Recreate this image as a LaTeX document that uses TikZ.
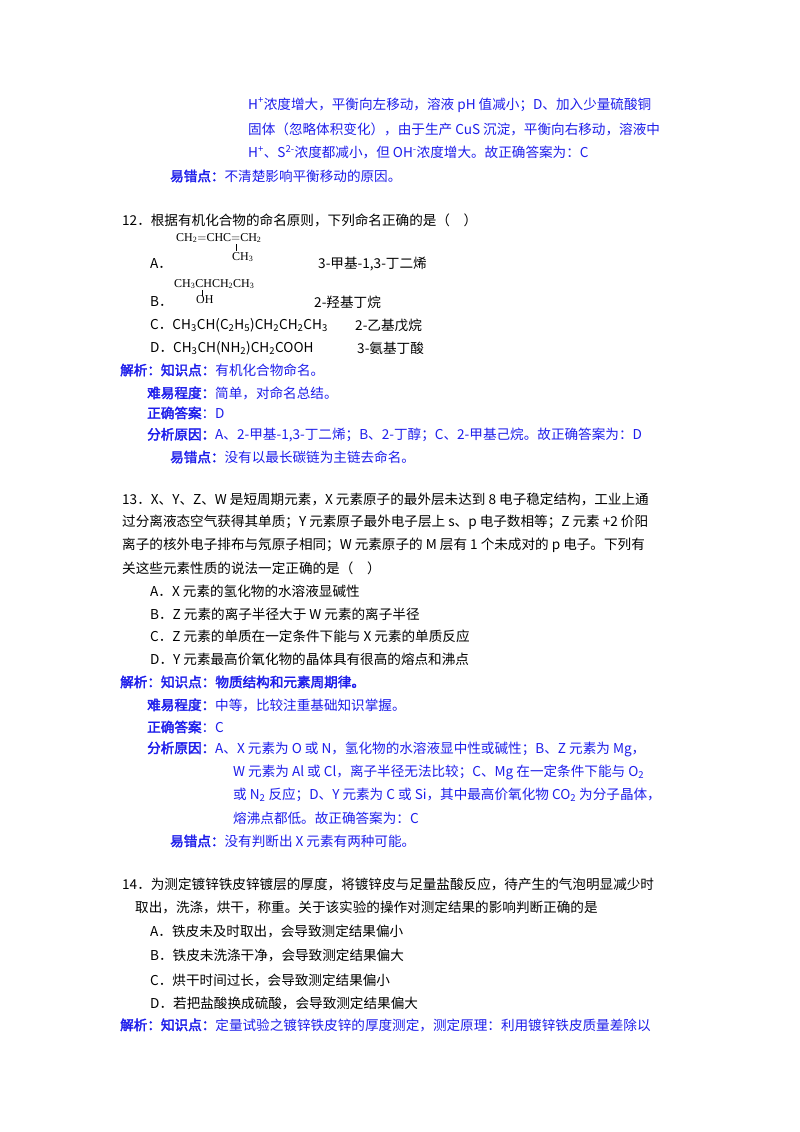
\documentclass[tikz,border=0pt]{standalone}
\usepackage{fontspec}
\setmainfont{Noto Sans CJK SC}
\newfontfamily\bfx[FakeBold=2.5]{Noto Sans CJK SC}
\newfontfamily\serx{Liberation Serif}
\definecolor{ab}{RGB}{30,30,235}
\newcommand{\B}[1]{{\bfx #1}}
\newcommand{\sux}[1]{\textsuperscript{#1}}
\newcommand{\sbx}[1]{\textsubscript{#1}}
\tikzset{t/.style={anchor=west,inner sep=0pt,font=\fontsize{13.6pt}{16pt}\selectfont},
 bl/.style={t,text=ab},
 fm/.style={anchor=west,inner sep=0pt,font=\serx\fontsize{12pt}{14pt}\selectfont}}
\begin{document}
\begin{tikzpicture}[x=1pt,y=-1pt]
\useasboundingbox[fill=white] (0,0) rectangle (800,1132);
\node[bl] (a1) at (248,105) {H\sux{+}浓度增大，平衡向左移动，溶液 pH 值减小；D、加入少量硫酸铜};
\node[bl] (a2) at (248,129) {固体（忽略体积变化），由于生产 CuS 沉淀，平衡向右移动，溶液中};
\node[bl] (a3) at (248,152) {H\sux{+}、S\sux{2-}浓度都减小，但 OH\sux{-}浓度增大。故正确答案为：C};
\node[bl] (a4) at (170,176) {\B{易错点：}不清楚影响平衡移动的原因。};
\node[t] (q12) at (122,220) {12．根据有机化合物的命名原则，下列命名正确的是（\quad）};
\node[fm] (fa1) at (176,238) {CH\sbx{2}$=$CHC$=$CH\sbx{2}};
\node[fm] (fa2) at (232,257) {CH\sbx{3}};
\draw (236.5,244) -- (236.5,251);
\node[t] (oa) at (150,264) {A．};
\node[t] (na) at (318,264) {3-甲基-1,3-丁二烯};
\node[fm] (fb1) at (174,284) {CH\sbx{3}CHCH\sbx{2}CH\sbx{3}};
\node[fm] (fb2) at (196,300) {OH};
\draw (202,290) -- (202,296);
\node[t] (ob) at (150,302) {B．};
\node[t] (nb) at (314,302) {2-羟基丁烷};
\node[t] (oc) at (150,325) {C．CH\sbx{3}CH(C\sbx{2}H\sbx{5})CH\sbx{2}CH\sbx{2}CH\sbx{3}};
\node[t] (nc) at (355,325) {2-乙基戊烷};
\node[t] (od) at (150,348) {D．CH\sbx{3}CH(NH\sbx{2})CH\sbx{2}COOH};
\node[t] (nd) at (357,348) {3-氨基丁酸};
\node[bl] (j1) at (120,370) {\B{解析：知识点：}有机化合物命名。};
\node[bl] (j2) at (147,393) {\B{难易程度：}简单，对命名总结。};
\node[bl] (j3) at (147,413) {\B{正确答案}：D};
\node[bl] (j4) at (147,435) {\B{分析原因：}A、2-甲基-1,3-丁二烯；B、2-丁醇；C、2-甲基己烷。故正确答案为：D};
\node[bl] (j5) at (170,457) {\B{易错点：}没有以最长碳链为主链去命名。};
\node[t] (q13a) at (122,499) {13．X、Y、Z、W 是短周期元素，X 元素原子的最外层未达到 8 电子稳定结构，工业上通};
\node[t] (q13b) at (122,522) {过分离液态空气获得其单质；Y 元素原子最外电子层上 s、p 电子数相等；Z 元素 +2 价阳};
\node[t] (q13c) at (122,545) {离子的核外电子排布与氖原子相同；W 元素原子的 M 层有 1 个未成对的 p 电子。下列有};
\node[t] (q13d) at (122,568) {关这些元素性质的说法一定正确的是（\quad）};
\node[t] (o13a) at (150,591) {A．X 元素的氢化物的水溶液显碱性};
\node[t] (o13b) at (150,614) {B．Z 元素的离子半径大于 W 元素的离子半径};
\node[t] (o13c) at (150,636) {C．Z 元素的单质在一定条件下能与 X 元素的单质反应};
\node[t] (o13d) at (150,659) {D．Y 元素最高价氧化物的晶体具有很高的熔点和沸点};
\node[bl] (k1) at (120,682) {\B{解析：知识点：物质结构和元素周期律。}};
\node[bl] (k2) at (147,705) {\B{难易程度：}中等，比较注重基础知识掌握。};
\node[bl] (k3) at (147,727) {\B{正确答案}：C};
\node[bl] (k4) at (147,749) {\B{分析原因：}A、X 元素为 O 或 N，氢化物的水溶液显中性或碱性；B、Z 元素为 Mg，};
\node[bl] (k5) at (233,772) {W 元素为 Al 或 Cl，离子半径无法比较；C、Mg 在一定条件下能与 O\sbx{2}};
\node[bl] (k6) at (233,795) {或 N\sbx{2} 反应；D、Y 元素为 C 或 Si，其中最高价氧化物 CO\sbx{2} 为分子晶体，};
\node[bl] (k7) at (233,818) {熔沸点都低。故正确答案为：C};
\node[bl] (k8) at (170,841) {\B{易错点：}没有判断出 X 元素有两种可能。};
\node[t] (q14a) at (122,884) {14．为测定镀锌铁皮锌镀层的厚度，将镀锌皮与足量盐酸反应，待产生的气泡明显减少时};
\node[t] (q14b) at (135,907) {取出，洗涤，烘干，称重。关于该实验的操作对测定结果的影响判断正确的是};
\node[t] (o14a) at (150,931) {A．铁皮未及时取出，会导致测定结果偏小};
\node[t] (o14b) at (150,955) {B．铁皮未洗涤干净，会导致测定结果偏大};
\node[t] (o14c) at (150,980) {C．烘干时间过长，会导致测定结果偏小};
\node[t] (o14d) at (150,1003) {D．若把盐酸换成硫酸，会导致测定结果偏大};
\node[bl] (m1) at (120,1025) {\B{解析：知识点：}定量试验之镀锌铁皮锌的厚度测定，测定原理：利用镀锌铁皮质量差除以};
\end{tikzpicture}
\end{document}
